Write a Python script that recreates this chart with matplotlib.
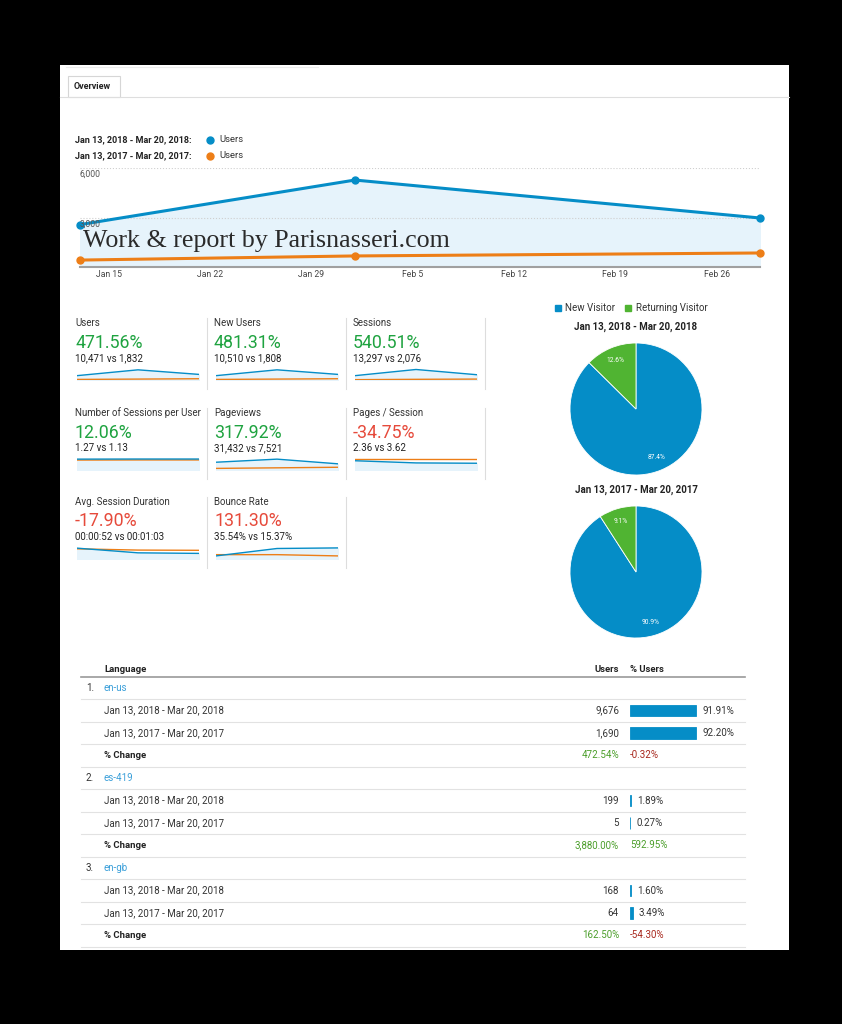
import numpy as np
import matplotlib.pyplot as plt
from matplotlib.patches import Rectangle

W, H = 842, 1024
AZUL = '#058dc7'
NARANJA = '#ed7e17'
VERDE_PIE = '#50b432'
RELLENO = '#e6f3fb'
SUBE = '#1fa340'
BAJA = '#e64a3b'
plt.rcParams['font.family'] = ['Roboto', 'DejaVu Sans']

# grafico principal (usuarios por mes)
dias = np.array(['2018-01-13', '2018-02-01', '2018-03-01'], dtype='datetime64[D]')
usuarios_2018 = [2570, 5270, 2970]
usuarios_2017 = [420, 670, 850]
semanas = np.array(['2018-01-15', '2018-01-22', '2018-01-29', '2018-02-05',
                    '2018-02-12', '2018-02-19', '2018-02-26'], dtype='datetime64[D]')
etiquetas_semanas = ['Jan 15', 'Jan 22', 'Jan 29', 'Feb 5', 'Feb 12', 'Feb 19', 'Feb 26']

# tarjetas
kpi_nombres = ['Users', 'New Users', 'Sessions', 'Number of Sessions per User',
               'Pageviews', 'Pages / Session', 'Avg. Session Duration', 'Bounce Rate']
kpi_cambio = [471.56, 481.31, 540.51, 12.06, 317.92, -34.75, -17.90, 131.30]
kpi_mejora = [1, 1, 1, 1, 1, 0, 0, 0]
kpi_detalle = ['10,471 vs 1,832', '10,510 vs 1,808', '13,297 vs 2,076', '1.27 vs 1.13',
               '31,432 vs 7,521', '2.36 vs 3.62', '00:00:52 vs 00:01:03', '35.54% vs 15.37%']
# mini graficos, altura relativa
spark_azul = [[0.38, 0.89, 0.49], [0.38, 0.89, 0.49], [0.38, 0.92, 0.46], [0.95, 0.96, 0.96],
              [0.68, 0.95, 0.54], [0.81, 0.62, 0.59], [0.95, 0.54, 0.49], [0.27, 0.92, 0.97]]
spark_naranja = [[0.05, 0.08, 0.11], [0.05, 0.08, 0.11], [0.03, 0.06, 0.08], [0.87, 0.88, 0.88],
                 [0.14, 0.19, 0.24], [1.0, 1.0, 1.0], [0.89, 0.78, 0.76], [0.38, 0.38, 0.27]]

# tortas
tipos_visitante = ['New Visitor', 'Returning Visitor']
visitantes_2018 = [87.4, 12.6]
visitantes_2017 = [90.9, 9.1]
periodos = ['Jan 13, 2018 - Mar 20, 2018', 'Jan 13, 2017 - Mar 20, 2017']

# tabla de idiomas
idiomas = ['en-us', 'es-419', 'en-gb']
usr_2018 = [9676, 199, 168]
usr_2017 = [1690, 5, 64]
pct_2018 = [91.91, 1.89, 1.60]
pct_2017 = [92.20, 0.27, 3.49]
cambio_usr = [472.54, 3880.00, 162.50]
cambio_pct = [-0.32, 592.95, -54.30]


def caja(x0, y0, x1, y1):
    return [x0 / W, 1 - y1 / H, (x1 - x0) / W, (y1 - y0) / H]


fig = plt.figure(figsize=(W / 100, H / 100), dpi=100, facecolor='black')
bg = fig.add_axes([0, 0, 1, 1])
bg.set_xlim(0, W)
bg.set_ylim(H, 0)
bg.axis('off')
bg.add_patch(Rectangle((60, 65), 729, 885, fc='white', ec='none'))

# pestaña
bg.plot([66, 318], [67, 67], color='#ececec', lw=0.8)
bg.add_patch(Rectangle((68, 76), 52, 21, fc='white', ec='#d6d6d6', lw=0.8))
bg.plot([60, 789], [96.5, 96.5], color='#dedede', lw=0.8)
bg.text(74, 86.5, 'Overview', fontsize=6.5, fontweight='bold', color='#222', va='center')

# leyenda principal
for k, (txt, col) in enumerate([(periodos[0], AZUL), (periodos[1], NARANJA)]):
    yy = 139.5 + 16 * k
    bg.text(75, yy, txt + ':', fontsize=6.5, fontweight='bold', color='#222', va='center')
    bg.plot(210, yy, 'o', color=col, ms=5)
    bg.text(219, yy, 'Users', fontsize=6.8, color='#333', va='center')

# grafico principal
ax = fig.add_axes(caja(80, 168, 760, 267))
ax.set_facecolor('none')
ax.fill_between(dias, usuarios_2018, color=RELLENO, zorder=1)
ax.plot(dias, usuarios_2018, color=AZUL, lw=2.2, marker='o', ms=5, clip_on=False, zorder=3)
ax.plot(dias, usuarios_2017, color=NARANJA, lw=2.2, marker='o', ms=5, clip_on=False, zorder=3)
ax.set_xlim(dias[0], dias[-1])
ax.set_ylim(0, 6000)
ax.set_yticks([3000, 6000])
ax.grid(axis='y', color='#cfcfcf', ls=':', lw=0.8)
ax.tick_params(axis='y', length=0, labelleft=False)
for v in [3000, 6000]:
    ax.annotate(f'{v:,}', (0, v), xycoords=ax.get_yaxis_transform(), xytext=(0, -4.5),
                textcoords='offset points', fontsize=6.2, color='#555', va='center', ha='left')
ax.set_xticks(semanas)
ax.set_xticklabels(etiquetas_semanas)
ax.tick_params(axis='x', length=0, pad=2, labelsize=6.2, labelcolor='#444')
for s in ['top', 'left', 'right']:
    ax.spines[s].set_visible(False)
ax.spines['bottom'].set_color('#a0a0a0')
ax.spines['bottom'].set_linewidth(1.5)

fig.text(83 / W, 1 - 241 / H, 'Work & report by Parisnasseri.com',
         family=['Liberation Serif', 'DejaVu Serif'], fontsize=18.7, color='#2a2a2a', va='center')

# tarjetas
kpi_x = [75, 214, 353]
kpi_y = [323, 413, 502]
for i, nombre in enumerate(kpi_nombres):
    fila, col = divmod(i, 3)
    x, y = kpi_x[col], kpi_y[fila]
    bg.text(x, y, nombre, fontsize=7, color='#333', va='center')
    bg.text(x, y + 19.5, f'{kpi_cambio[i]:.2f}%', fontsize=12.8,
            color=SUBE if kpi_mejora[i] else BAJA, va='center')
    bg.text(x, y + 35, kpi_detalle[i], fontsize=7, color='#222', va='center')
    sp = fig.add_axes(caja(x + 2, y + 45, x + 124, y + 57))
    sp.set_facecolor('none')
    sp.fill_between(range(3), spark_azul[i], color=RELLENO)
    sp.plot(range(3), spark_naranja[i], color=NARANJA, lw=1)
    sp.plot(range(3), spark_azul[i], color=AZUL, lw=1)
    sp.set_xlim(0, 2)
    sp.set_ylim(0, 1.05)
    sp.axis('off')
    bg.plot([x + 132, x + 132], [y - 5, y + 66], color='#dddddd', lw=0.8)

# tortas
bg.plot(558, 308, 's', color=AZUL, ms=5)
bg.text(565, 308, tipos_visitante[0], fontsize=7, color='#333', va='center')
bg.plot(628, 308, 's', color=VERDE_PIE, ms=5)
bg.text(636, 308, tipos_visitante[1], fontsize=7, color='#333', va='center')
for valores, titulo, cy in [(visitantes_2018, periodos[0], 409), (visitantes_2017, periodos[1], 572)]:
    bg.text(636, cy - 82.5, titulo, fontsize=7, fontweight='bold', color='#222',
            ha='center', va='center')
    pa = fig.add_axes(caja(570, cy - 66, 702, cy + 66))
    pa.pie(valores, colors=[AZUL, VERDE_PIE], startangle=90, counterclock=False,
           autopct='%.1f%%', pctdistance=0.8, radius=1,
           wedgeprops=dict(ec='white', lw=0.6),
           textprops=dict(color='white', fontsize=4.8))
    pa.set_xlim(-1, 1)
    pa.set_ylim(-1, 1)
    pa.set_aspect('equal')

# tabla
bg.text(104, 669, 'Language', fontsize=6.8, fontweight='bold', color='#222', va='center')
bg.text(619, 669, 'Users', fontsize=6.8, fontweight='bold', color='#222', va='center', ha='right')
bg.text(630, 669, '% Users', fontsize=6.8, fontweight='bold', color='#222', va='center')
bg.plot([81, 745], [677, 677], color='#9a9a9a', lw=1.2)

ba = fig.add_axes(caja(630, 688 - 11.25, 702, 688 + 22.5 * 11 + 11.25))
ba.set_facecolor('none')
ba.set_xlim(0, 100)
ba.set_ylim(11.5, -0.5)
ba.axis('off')

fila = 0
for j, idioma in enumerate(idiomas):
    y = 688 + 22.5 * fila
    bg.text(94, y, f'{j + 1}.', fontsize=7, color='#333', va='center', ha='right')
    bg.text(104, y, idioma, fontsize=7, color='#3a9fd9', va='center')
    fila += 1
    for periodo, u, p in [(periodos[0], usr_2018[j], pct_2018[j]),
                          (periodos[1], usr_2017[j], pct_2017[j])]:
        y = 688 + 22.5 * fila
        bg.text(104, y, periodo, fontsize=7, color='#333', va='center')
        bg.text(619, y, f'{u:,}', fontsize=7, color='#333', va='center', ha='right')
        ba.barh(fila, p, height=0.5, color=AZUL, ec=AZUL, lw=0.6)
        ba.annotate(f'{p:.2f}%', (p, fila), xytext=(4.5, 0), textcoords='offset points',
                    fontsize=7, color='#333', va='center')
        fila += 1
    y = 688 + 22.5 * fila
    bg.text(104, y, '% Change', fontsize=6.8, fontweight='bold', color='#222', va='center')
    bg.text(619, y, f'{cambio_usr[j]:,.2f}%', fontsize=7, color='#4b9e2a' if cambio_usr[j] > 0 else '#a8281e',
            va='center', ha='right')
    bg.text(630, y, f'{cambio_pct[j]:,.2f}%', fontsize=7, color='#4b9e2a' if cambio_pct[j] > 0 else '#a8281e',
            va='center')
    fila += 1

for i in range(12):
    y = 688 + 22.5 * i + 11
    bg.plot([81, 745], [y, y], color='#e2e2e2', lw=0.8)

fig.savefig('out.png', dpi=100, facecolor='black')
